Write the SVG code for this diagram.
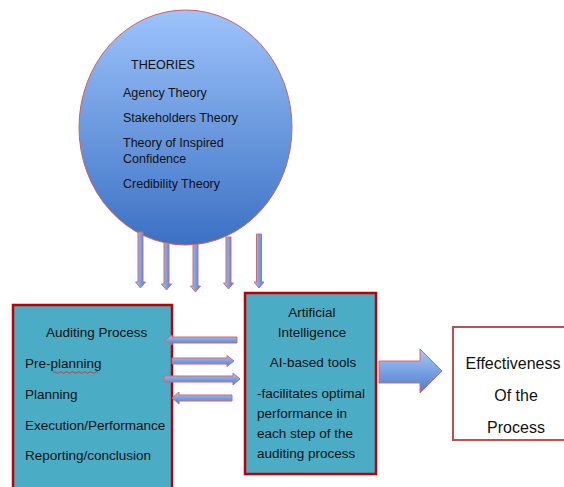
<svg xmlns="http://www.w3.org/2000/svg" width="564" height="487" viewBox="0 0 564 487">
  <defs>
    <linearGradient id="gCircle" x1="0" y1="0" x2="0" y2="1">
      <stop offset="0" stop-color="#9dc3fb"/>
      <stop offset="1" stop-color="#3b71c4"/>
    </linearGradient>
    <linearGradient id="gArrowV" x1="0" y1="0" x2="1" y2="0">
      <stop offset="0" stop-color="#a9c8f8"/>
      <stop offset="1" stop-color="#4a7ccf"/>
    </linearGradient>
    <linearGradient id="gArrowH" x1="0" y1="0" x2="0" y2="1">
      <stop offset="0" stop-color="#a9c8f8"/>
      <stop offset="1" stop-color="#4a7ccf"/>
    </linearGradient>
    <style>
      text { font-family: "Liberation Sans", Arial, sans-serif; fill: #111; }
      .t12 { font-size: 12.5px; }
      .t13 { font-size: 13.5px; }
      .t16 { font-size: 16px; }
      .box { fill: #4bacc6; stroke: #c00000; stroke-width: 2.5; }
      .arrV { fill: url(#gArrowV); stroke: #d9686c; stroke-width: 1; }
      .arrH { fill: url(#gArrowH); stroke: #d9686c; stroke-width: 1; }
    </style>
  </defs>

  <g id="theories">
    <ellipse cx="185.5" cy="127.5" rx="106.5" ry="117.5" fill="url(#gCircle)" stroke="#d0605f" stroke-width="1"/>
    <text class="t12" x="131" y="69">THEORIES</text>
    <text class="t12" x="123" y="97">Agency Theory</text>
    <text class="t12" x="123" y="122">Stakeholders Theory</text>
    <text class="t12" x="123" y="147">Theory of Inspired</text>
    <text class="t12" x="123" y="163">Confidence</text>
    <text class="t12" x="123" y="188">Credibility Theory</text>
  </g>

  <g id="auditing-process">
    <rect class="box" x="13" y="305" width="159" height="190"/>
    <text class="t13" x="46" y="337">Auditing  Process</text>
    <text class="t13" x="25" y="368">Pre-planning</text>
    <path d="M53,372.5 q1.5,-1.5 3,0 t3,0 t3,0 t3,0 t3,0 t3,0 t3,0 t3,0 t3,0 t3,0 t3,0 t3,0 t3,0 t3,0 t3,0" fill="none" stroke="#e02020" stroke-width="0.8"/>
    <text class="t13" x="25" y="399">Planning</text>
    <text class="t13" x="25" y="430">Execution/Performance</text>
    <text class="t13" x="25" y="460">Reporting/conclusion</text>
  </g>

  <g id="artificial-intelligence">
    <rect class="box" x="245" y="293" width="131" height="181"/>
    <text class="t13" x="312" y="317" text-anchor="middle">Artificial</text>
    <text class="t13" x="312" y="337" text-anchor="middle">Intelligence</text>
    <text class="t13" x="313" y="367" text-anchor="middle">AI-based tools</text>
    <text class="t13" x="257" y="398">-facilitates optimal</text>
    <text class="t13" x="257" y="418">performance in</text>
    <text class="t13" x="257" y="438">each step of the</text>
    <text class="t13" x="257" y="458">auditing process</text>
  </g>

  <g id="effectiveness">
    <rect x="453" y="327" width="120" height="113" fill="#ffffff" stroke="#c0504d" stroke-width="2"/>
    <text class="t16" x="513" y="369" text-anchor="middle">Effectiveness</text>
    <text class="t16" x="516" y="401" text-anchor="middle">Of the</text>
    <text class="t16" x="516" y="433" text-anchor="middle">Process</text>
  </g>

  <g id="connectors">
    <polygon class="arrV" points="138,232 143,232 143,282 145.5,282 140.5,288 135.5,282 138,282"/>
    <polygon class="arrV" points="164,243 169,243 169,284 171.5,284 166.5,290 161.5,284 164,284"/>
    <polygon class="arrV" points="193,244.5 198,244.5 198,286 200.5,286 195.5,292 190.5,286 193,286"/>
    <polygon class="arrV" points="226,237 231,237 231,283 233.5,283 228.5,289 223.5,283 226,283"/>
    <polygon class="arrV" points="256.5,234 261.5,234 261.5,282 264,282 259,288 254,282 256.5,282"/>

    <polygon class="arrH" points="237,337 172,337 172,335 165,340 172,345 172,343 237,343"/>
    <polygon class="arrH" points="172,358 227,358 227,355.5 234,361 227,366.5 227,364 172,364"/>
    <polygon class="arrH" points="164,376 233,376 233,373 240,379 233,385 233,382 164,382"/>
    <polygon class="arrH" points="232,395 179,395 179,392 172,398 179,404 179,401 232,401"/>

    <polygon class="arrH" points="379,361 420,361 420,349 442,371 420,393 420,383 379,383"/>
  </g>
</svg>
